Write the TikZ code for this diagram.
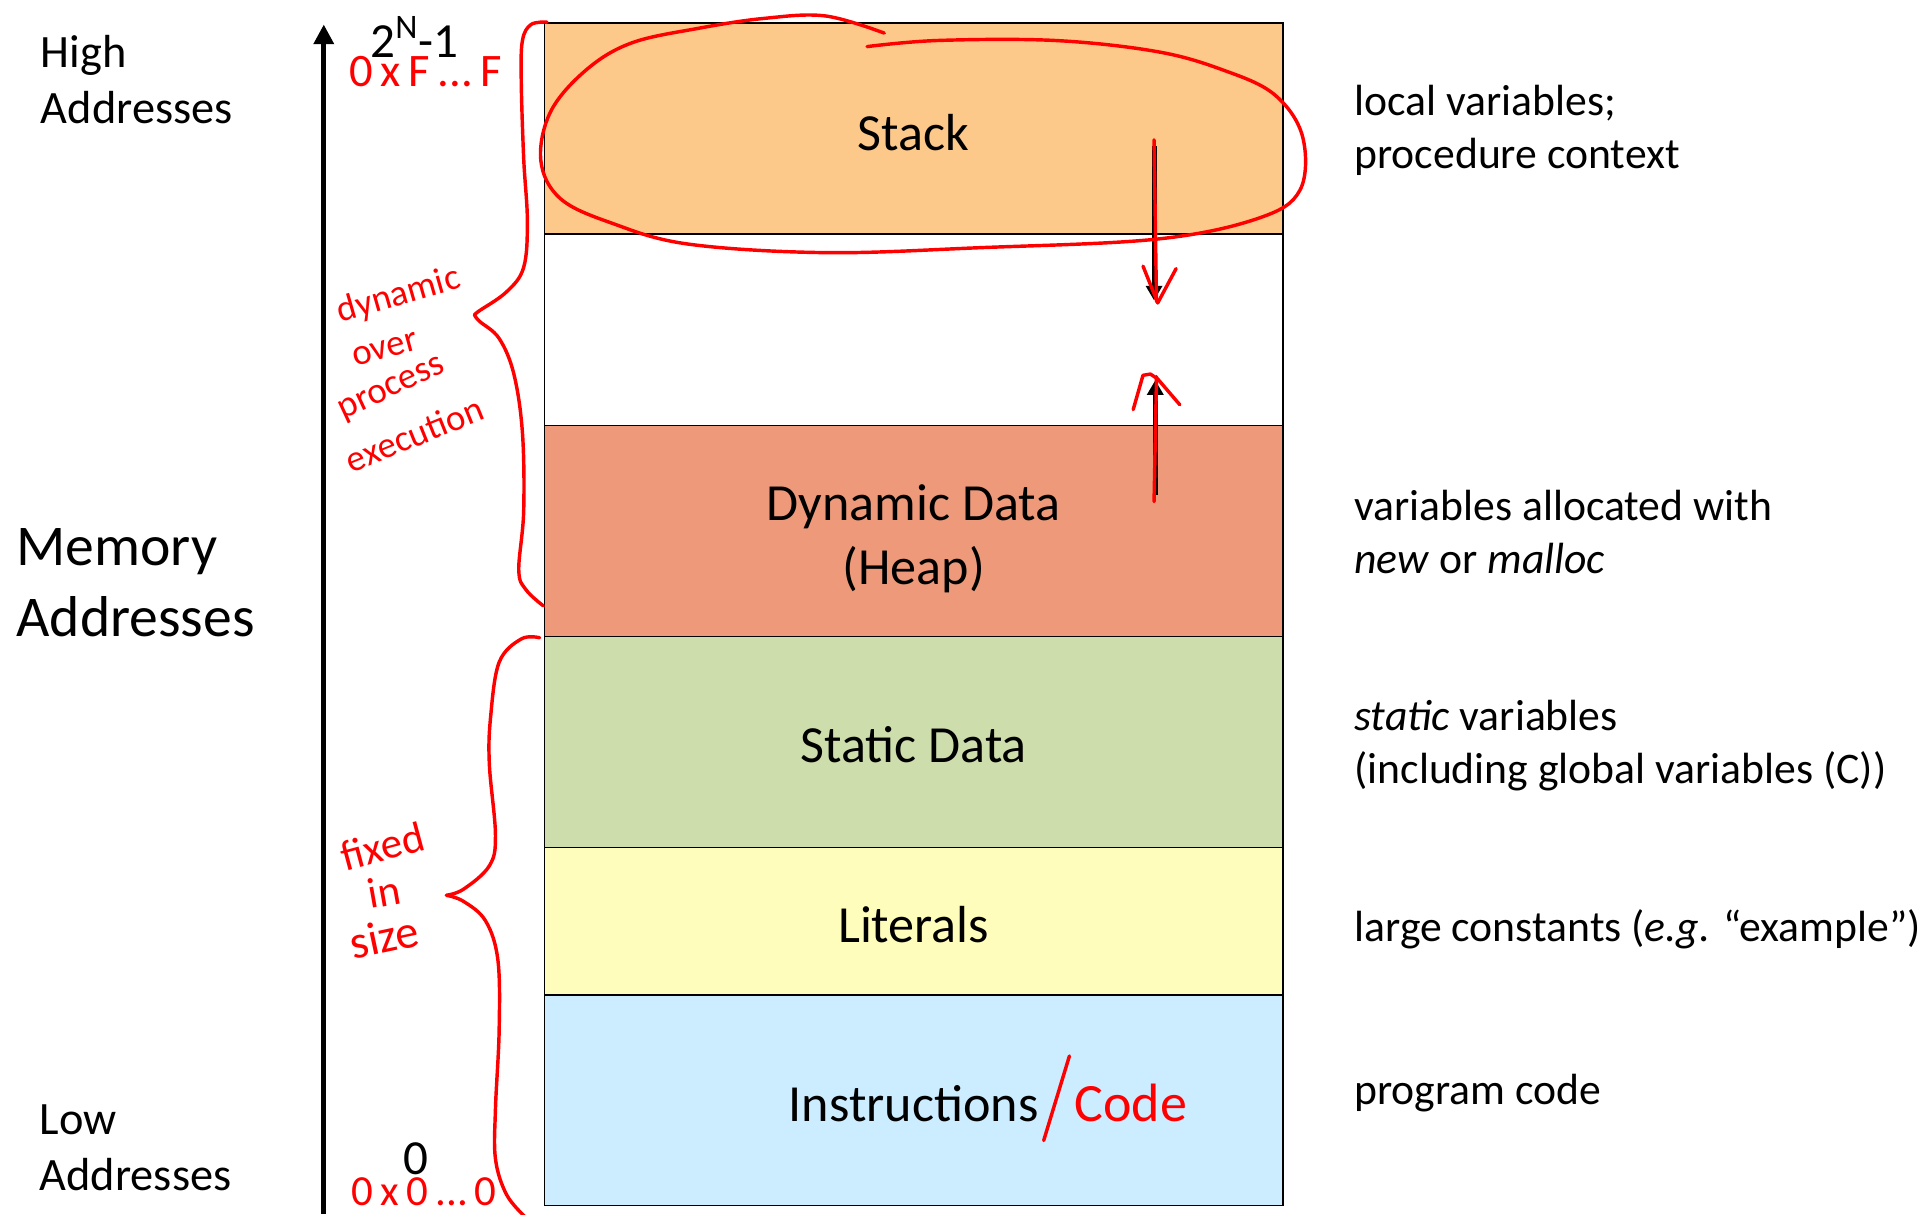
\documentclass[tikz,border=0pt]{standalone}
\usepackage{fontspec}
\setmainfont{Carlito}
\usetikzlibrary{arrows.meta}
\definecolor{stackc}{HTML}{FDC98B}
\definecolor{heapc}{HTML}{EE9A7A}
\definecolor{staticc}{HTML}{CDDDAB}
\definecolor{litc}{HTML}{FFFDBB}
\definecolor{instrc}{HTML}{CCECFF}
\definecolor{inkred}{HTML}{FF0000}
\begin{document}
\begin{tikzpicture}[x=0.5pt,y=-0.5pt,
  seg/.style={draw=black, line width=0.75pt, minimum width=301pt, inner sep=0pt},
  seglab/.style={inner sep=0pt, align=center, font=\fontsize{21.25}{26}\selectfont},
  note/.style={anchor=west, align=left, inner sep=0pt, font=\fontsize{17.8}{21.7}\selectfont},
  side/.style={anchor=west, align=left, inner sep=0pt, font=\fontsize{18.9}{23}\selectfont},
  memlab/.style={anchor=west, align=left, inner sep=0pt, font=\fontsize{23.5}{28.7}\selectfont},
  addr/.style={inner sep=0pt, font=\fontsize{20}{24}\selectfont},
  ink/.style={inkred, line width=1.4pt, line cap=round, line join=round},
  inktext/.style={text=inkred, inner sep=0pt},
  growarrow/.style={line width=2pt, -{Triangle[length=6pt,width=6.5pt]}}
]
\useasboundingbox (0,0) rectangle (1568,990);
\fill[white] (0,0) rectangle (1568,990);

% memory segments
\node[seg, fill=stackc, minimum height=86pt] (stack) at (745,105) {};
\node[seg, fill=white, minimum height=78pt] (free) at (745,269) {};
\node[seg, fill=heapc, minimum height=86pt] (heap) at (745,433) {};
\node[seg, fill=staticc, minimum height=86pt] (static) at (745,605) {};
\node[seg, fill=litc, minimum height=60pt] (lit) at (745,751) {};
\node[seg, fill=instrc, minimum height=86pt] (instr) at (745,897) {};
\node[seglab] (stacklab) at (745,108) {Stack};
\node[seglab] (heaplab) at (745,439) {Dynamic Data\\(Heap)};
\node[seglab] (staticlab) at (745,607) {Static Data};
\node[seglab] (litlab) at (745,754) {Literals};
\node[seglab] (instrlab) at (745,900) {Instructions};

% axis
\coordinate (axbot) at (264,990);
\coordinate (axtop) at (264,20);
\draw[line width=1.9pt, -{Triangle[length=8pt,width=8pt]}] (axbot) -- (axtop);

% left labels
\node[side] (high) at (33,65) {High\\Addresses};
\node[memlab] (mem) at (13,475) {Memory\\Addresses};
\node[side] (low) at (32,936) {Low\\Addresses};
\node[addr] (top) at (338,30) {2\textsuperscript{N}-1};
\node[addr] (zero) at (339,945) {0};

% right descriptions
\node[note] (dstack) at (1104,106) {local variables;\\procedure context};
\node[note] (dheap) at (1104,434) {variables allocated with\\\textit{new} or \textit{malloc}};
\node[note] (dstatic) at (1104,608) {\textit{static} variables\\(including global variables (C))};
\node[note] (dlit) at (1104,758) {large constants (\textit{e.g.} “example”)};
\node[note] (dinstr) at (1104,891) {program code};

% growth arrows
\coordinate (sgA) at (941,119);
\coordinate (sgB) at (941,245);
\coordinate (hgA) at (942,404);
\coordinate (hgB) at (942,310);
\draw[growarrow] (sgA) -- (sgB);
\draw[growarrow] (hgA) -- (hgB);

% red ink: loop around stack
\draw[ink] plot[smooth, tension=0.6] coordinates {(721,27) (673,13) (623,15) (570,23) (515,35) (478,57) (449,91) (441,131) (457,162) (499,182) (561,199) (673,206) (798,202) (943,195) (1026,178) (1060,155) (1062,111) (1039,77) (997,57) (943,42) (860,33) (765,33) (707,38)};

% red ink over arrows
\draw[ink] (941,114) -- (943,246);
\draw[ink] (932,217) -- (944,247) -- (959,219);
\draw[ink] (941,409) -- (943,307);
\draw[ink] (924,334) -- (932,306) -- (938,305) -- (944,309) -- (962,330);

% red braces
\draw[ink] plot[smooth, tension=0.6] coordinates {(446,18) (433,20) (426,33) (425,65) (427,129) (430,180) (427,218) (413,238) (390,254) (387,257)};
\draw[ink] plot[smooth, tension=0.6] coordinates {(387,257) (391,262) (407,276) (419,305) (426,353) (427,417) (423,465) (429,481) (443,494)};
\draw[ink] plot[smooth, tension=0.6] coordinates {(440,520) (425,521) (407,540) (400,585) (399,623) (404,681) (399,706) (378,725) (364,730)};
\draw[ink] plot[smooth, tension=0.6] coordinates {(364,730) (378,735) (396,751) (406,783) (407,840) (404,904) (404,945) (413,974) (428,992)};

% red handwritten notes
\node[inktext, font=\fontsize{19}{23}\selectfont] (hexhi) at (347,58) {0\,x\,F\,...\,F};
\node[inktext, font=\fontsize{17.5}{21}\selectfont] (hexlo) at (346,972) {0\,x\,0\,...\,0};
\node[inktext, font=\fontsize{15}{19}\selectfont, rotate=16] (w1) at (325,241) {dynamic};
\node[inktext, font=\fontsize{15}{19}\selectfont, rotate=15] (w2) at (314,285) {over};
\node[inktext, font=\fontsize{15}{19}\selectfont, rotate=25] (w3) at (320,318) {process};
\node[inktext, font=\fontsize{15}{19}\selectfont, rotate=22] (w4) at (338,354) {execution};
\node[inktext, font=\fontsize{17.5}{22}\selectfont, rotate=15] (f1) at (312,690) {fixed};
\node[inktext, font=\fontsize{17.5}{22}\selectfont, rotate=10] (f2) at (313,727) {in};
\node[inktext, font=\fontsize{19}{24}\selectfont, rotate=12] (f3) at (313,764) {size};
\coordinate (slA) at (851,930);
\coordinate (slB) at (872,861);
\draw[ink] (slA) -- (slB);
\node[inktext, font=\fontsize{22}{26}\selectfont] (code) at (922,899) {Code};
\end{tikzpicture}
\end{document}
